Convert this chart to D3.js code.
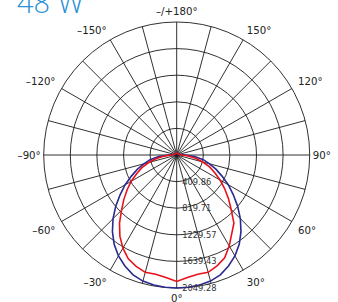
<!DOCTYPE html>
<html><head><meta charset="utf-8">
<script src="https://cdn.jsdelivr.net/npm/d3@7"></script>
<style>html,body{margin:0;padding:0;background:#fff;overflow:hidden}</style>
</head><body><svg id="c" width="338" height="302"></svg>
<script>
const title = "48 W";
const angles = [-150,-120,-100,-95,-90,-85,-80,-75,-70,-65,-60,-55,-50,-45,-40,-35,-30,-25,-20,-15,-10,-5,0,5,10,15,20,25,30,35,40,45,50,55,60,65,70,75,80,85,90,95,100,120,150,180];
const redValues = [28,30,40,50,92,193,316,447,570,678,809,932,1063,1202,1371,1526,1657,1764,1826,1872,1865,1895,1949,1895,1865,1872,1818,1749,1618,1479,1371,1187,1040,901,771,647,539,416,293,177,85,50,40,30,28,26];
const blueValues = [28,30,40,60,123,277,416,524,647,770,917,1063,1225,1387,1541,1680,1795,1888,1965,2011,2034,2046,2049.28,2046,2034,2011,1965,1888,1795,1680,1541,1387,1225,1063,917,770,647,524,416,277,123,60,40,30,28,26];
const ringValues = [409.86, 819.71, 1229.57, 1639.43, 2049.28];
const ringLabels = ["409.86","819.71","1229.57","1639.43","2049.28"];
const angleTicks = [0,30,60,90,120,150,180,-150,-120,-90,-60,-30];
const angleLabels = ["0°","30°","60°","90°","120°","150°","–/+180°","–150°","–120°","–90°","–60°","–30°"];
const spokeStep = 15;

const svg = d3.select("#c");
const cx = 176.7, cy = 155, R = 133;
const r = d3.scaleLinear().domain([0, d3.max(ringValues)]).range([0, R]);
const toRad = d => d * Math.PI / 180;
const g = svg.append("g").attr("transform", `translate(${cx},${cy})`);

// title
svg.append("text").attr("x", 17).attr("y", 12.5)
  .attr("font-family", "'Open Sans', sans-serif").attr("font-weight", 300)
  .attr("font-size", 29).attr("fill", "#2b90d6").text(title);

// rings
g.selectAll("circle.ring").data(ringValues).enter().append("circle")
  .attr("r", d => r(d)).attr("fill", "none").attr("stroke", "#1a1a1a").attr("stroke-width", 0.9);
// spokes
g.selectAll("line.spoke").data(d3.range(0, 360, spokeStep)).enter().append("line")
  .attr("x1", 0).attr("y1", 0)
  .attr("x2", d => R * Math.sin(toRad(d))).attr("y2", d => R * Math.cos(toRad(d)))
  .attr("stroke", "#1a1a1a").attr("stroke-width", 0.9);

// curves
const line = d3.lineRadial().angle(d => Math.PI - toRad(d[0])).radius(d => r(d[1])).curve(d3.curveLinearClosed);
g.append("path").datum(angles.map((a, i) => [a, blueValues[i]]))
  .attr("d", line).attr("fill", "none").attr("stroke", "#2b2a8f").attr("stroke-width", 1.6);
g.append("path").datum(angles.map((a, i) => [a, redValues[i]]))
  .attr("d", line).attr("fill", "none").attr("stroke", "#e8121c").attr("stroke-width", 1.6);

// angle labels (box aligned outward from an anchor just outside the outer ring)
const labelR = d => (d === 0 ? 138 : (Math.abs(Math.abs(d) - 90) < 1 ? 136 : 140));
g.selectAll("text.ang").data(angleTicks).enter().append("text")
  .attr("x", d => labelR(d) * Math.sin(toRad(d)))
  .attr("y", d => labelR(d) * Math.cos(toRad(d)))
  .attr("text-anchor", d => { const s = Math.sin(toRad(d)); return s > 0.1 ? "start" : (s < -0.1 ? "end" : "middle"); })
  .attr("dy", d => { const c = Math.cos(toRad(d)); return c > 0.1 ? "0.93em" : (c < -0.1 ? "0em" : "0.36em"); })
  .attr("font-family", "'DejaVu Sans', sans-serif").attr("font-size", 10.2).attr("fill", "#222")
  .text((d, i) => angleLabels[i]);

// ring labels
g.selectAll("text.ring").data(ringValues).enter().append("text")
  .attr("x", 5.5).attr("y", d => r(d)).attr("dy", "0.35em")
  .attr("font-family", "'DejaVu Sans', sans-serif").attr("font-size", 8.3).attr("fill", "#333")
  .text((d, i) => ringLabels[i]);
</script></body></html>
